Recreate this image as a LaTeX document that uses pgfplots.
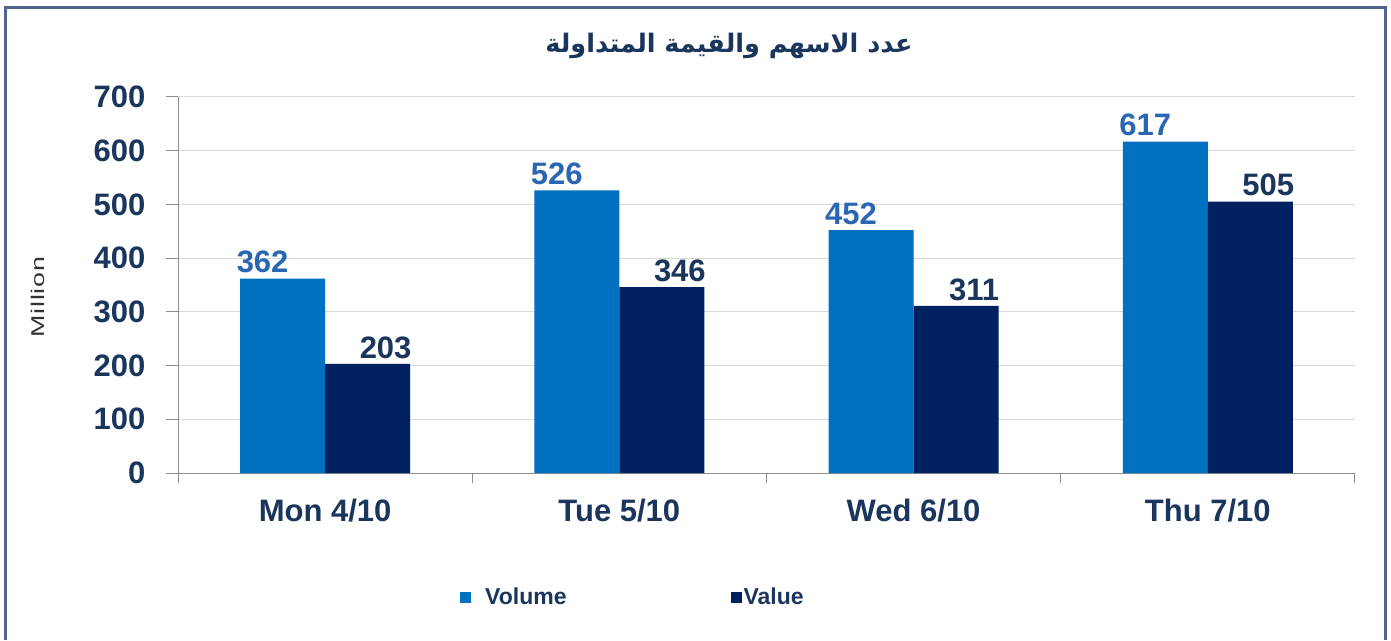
\documentclass[border=0pt]{standalone}
\usepackage{pgfplots}
\pgfplotsset{compat=1.18}
\usepackage{fontspec}
\setmainfont{Liberation Sans}
\newfontfamily\arabicfont[Script=Arabic]{DejaVu Sans}
\newfontfamily\millfont[FakeStretch=1.45, LetterSpace=4]{Liberation Sans}
\TeXXeTstate=1
\definecolor{volc}{HTML}{0070C0}
\definecolor{valc}{HTML}{002060}
\definecolor{vollab}{HTML}{2A66B2}
\definecolor{navy}{HTML}{1B365D}
\definecolor{framec}{HTML}{52628F}
\definecolor{gridc}{HTML}{D9D9D9}
\definecolor{axc}{HTML}{8C8C8C}
\begin{document}
\begin{tikzpicture}[x=1pt,y=1pt]
\useasboundingbox (0,0) rectangle (1391,640);
\fill[white] (0,0) rectangle (1391,640);
\draw[framec, line width=3pt] (5.5,0) -- (5.5,632.5) -- (1385.5,632.5) -- (1385.5,0);
\node[font=\arabicfont\bfseries\fontsize{25.5}{32}\selectfont, text=navy] at (729,594) {\beginR عدد الاسهم والقيمة المتداولة\endR};
\node[rotate=90, font=\millfont\fontsize{18.5}{22}\selectfont, text=black!80] at (38,343) {Million};
\begin{axis}[at={(178pt,167pt)}, anchor=south west, scale only axis, width=1177pt, height=376pt,
 ybar=0pt, bar width=85pt,
 xmin=-0.5, xmax=3.5, ymin=0, ymax=700,
 xtick={0,1,2,3}, xticklabels={Mon 4/10, Tue 5/10, Wed 6/10, Thu 7/10},
 minor xtick={-0.5,0.5,1.5,2.5,3.5},
 ytick={0,100,...,700},
 axis lines=left, axis line style={-, axc, line width=1pt},
 tick align=outside, major tick length=12pt, minor tick length=10pt,
 major x tick style={draw=none}, minor x tick style={axc, line width=1pt}, ytick style={axc, line width=1pt},
 ymajorgrids, grid style={gridc, line width=1pt},
 /pgf/number format/assume math mode=true,
 ticklabel style={font=\bfseries\fontsize{31}{36}\selectfont, text=navy},
 yticklabel style={xshift=-17pt},
 xticklabel style={yshift=-11pt},
 legend style={at={(0.2396,-0.3298)}, anchor=west, draw=none, fill=none, legend columns=2,
   font=\bfseries\fontsize{23}{27}\selectfont, text=navy, inner sep=0pt,
   /tikz/every even column/.append style={column sep=162pt}},
 legend image code/.code={\fill[#1] (0pt,-5.5pt) rectangle (11pt,5.5pt);},
]
\addplot[fill=volc, draw=none, nodes near coords={\pgfmathprintnumber[assume math mode=true]{\pgfplotspointmeta}},
  every node near coord/.append style={font=\bfseries\fontsize{31}{36}\selectfont, text=vollab, xshift=-20pt, yshift=2pt}]
  coordinates {(0,362) (1,526) (2,452) (3,617)};
\addplot[fill=valc, draw=none, nodes near coords={\pgfmathprintnumber[assume math mode=true]{\pgfplotspointmeta}},
  every node near coord/.append style={font=\bfseries\fontsize{31}{36}\selectfont, text=navy, xshift=18pt, yshift=2pt}]
  coordinates {(0,203) (1,346) (2,311) (3,505)};
\legend{\hspace{12pt}Volume, Value}
\end{axis}
\end{tikzpicture}
\end{document}
